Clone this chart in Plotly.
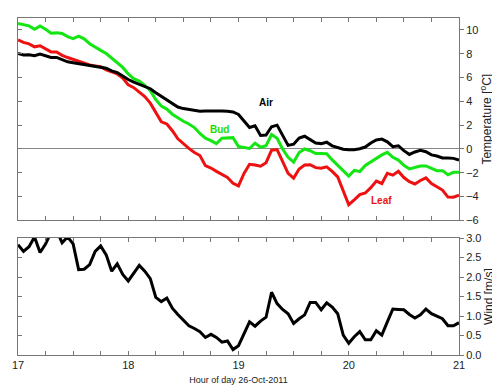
import numpy as np
import plotly.graph_objects as go

# time axis: 26-Oct-2011, 17:00 to 21:00 in 3-minute steps (hours)
hours = [17 + i * 3 / 60 for i in range(81)]

air = [8.03, 7.89, 7.92, 7.83, 7.97, 7.81, 7.69, 7.69, 7.50, 7.32,
       7.25, 7.18, 7.11, 7.05, 6.96, 6.91, 6.78, 6.56, 6.42, 6.12,
       5.83, 5.62, 5.45, 5.26, 5.06, 4.73, 4.41, 4.13, 3.84, 3.52,
       3.39, 3.30, 3.19, 3.16, 3.19, 3.20, 3.20, 3.18, 3.16, 3.11,
       2.90, 2.30, 1.80, 1.95, 1.13, 1.17, 1.87, 2.00, 1.10, 0.30,
       0.40, 0.92, 1.07, 0.80, 0.50, 0.45, 0.57, 0.26, 0.11, -0.02,
       -0.06, -0.06, 0.02, 0.16, 0.50, 0.76, 0.83, 0.60, 0.19, 0.27,
       -0.14, -0.46, -0.25, -0.12, -0.23, -0.50, -0.59, -0.75, -0.76, -0.79,
       -0.94]

bud = [10.54, 10.47, 10.34, 10.05, 10.33, 10.05, 9.72, 9.75, 9.70, 9.44,
       9.26, 9.48, 9.25, 8.84, 8.54, 8.28, 8.02, 7.64, 7.19, 6.85,
       6.30, 5.90, 5.70, 5.35, 4.90, 4.15, 3.60, 3.35, 2.92, 2.60,
       2.33, 2.10, 1.80, 1.30, 0.90, 0.70, 0.45, 0.90, 0.91, 0.95,
       0.20, 0.14, 0.04, 0.49, 0.14, 0.28, 1.21, 0.90, 0.00, -0.70,
       -1.10, -0.30, 0.00, -0.15, -0.39, -0.39, -0.40, -0.92, -1.40, -1.80,
       -2.28, -1.80, -1.90, -1.38, -1.08, -0.80, -0.50, -0.28, -0.70, -0.93,
       -1.37, -1.68, -1.57, -1.43, -1.43, -1.62, -1.82, -1.82, -2.17, -1.96,
       -1.96]

leaf = [9.16, 8.95, 8.83, 8.58, 8.67, 8.38, 8.15, 8.15, 7.86, 7.68,
        7.52, 7.40, 7.25, 7.05, 6.97, 6.90, 6.64, 6.48, 6.30, 5.95,
        5.38, 5.15, 4.75, 4.40, 3.85, 3.00, 2.28, 2.10, 1.53, 0.85,
        0.42, 0.05, -0.30, -0.55, -1.40, -1.60, -1.88, -2.12, -2.39, -2.88,
        -3.10, -2.05, -1.29, -1.35, -1.45, -1.15, -0.10, -0.05, -1.05, -2.05,
        -2.45, -1.68, -1.35, -1.32, -1.57, -1.62, -1.50, -1.88, -2.35, -3.60,
        -4.68, -4.28, -3.83, -3.70, -3.25, -2.70, -2.90, -2.05, -2.20, -1.87,
        -2.40, -2.75, -2.94, -2.65, -2.43, -2.90, -3.16, -3.45, -4.04, -4.05,
        -3.88]

wind = [2.83, 2.66, 2.78, 3.03, 2.63, 2.85, 3.15, 3.20, 2.88, 3.03,
        2.85, 2.19, 2.20, 2.32, 2.66, 2.80, 2.57, 2.15, 2.34, 2.07,
        1.90, 2.11, 2.30, 2.15, 1.96, 1.48, 1.37, 1.46, 1.20, 1.04,
        0.90, 0.75, 0.68, 0.60, 0.45, 0.53, 0.45, 0.33, 0.36, 0.14,
        0.24, 0.55, 0.85, 0.74, 0.87, 0.97, 1.61, 1.32, 1.17, 1.06,
        0.81, 0.93, 1.03, 1.35, 1.35, 1.16, 1.34, 1.23, 1.06, 0.51,
        0.30, 0.47, 0.60, 0.39, 0.39, 0.62, 0.51, 0.85, 1.18, 1.17,
        1.16, 1.04, 0.95, 1.03, 1.18, 1.06, 1.00, 0.93, 0.75, 0.75,
        0.83]

x_ticks = [17 + 0.25 * k for k in range(17)]
x_ticklabels = ["17", "", "", "", "18", "", "", "", "19", "", "", "", "20", "", "", "", "21"]
temp_ticks = [-6, -4, -2, 0, 2, 4, 6, 8, 10]
wind_ticks = [0.0, 0.5, 1.0, 1.5, 2.0, 2.5, 3.0]
wind_ticklabels = ["0.0", "0.5", "1.0", "1.5", "2.0", "2.5", "3.0"]

series_labels = [("Air", 19.25, 3.9, "black"),
                 ("Bud", 18.83, 1.6, "#22dd00"),
                 ("Leaf", 20.3, -4.3, "#ee1111")]

GREEN = "#14e614"
RED = "#ee1111"
AXC = "#777777"
FONT = "Liberation Sans, Arial, sans-serif"

fig = go.Figure()
fig.add_trace(go.Scatter(x=hours, y=bud, mode="lines", line=dict(color=GREEN, width=3),
                         xaxis="x", yaxis="y", showlegend=False))
fig.add_trace(go.Scatter(x=hours, y=leaf, mode="lines", line=dict(color=RED, width=3),
                         xaxis="x", yaxis="y", showlegend=False))
fig.add_trace(go.Scatter(x=hours, y=air, mode="lines", line=dict(color="black", width=3),
                         xaxis="x", yaxis="y", showlegend=False))
fig.add_trace(go.Scatter(x=hours, y=wind, mode="lines", line=dict(color="black", width=3),
                         xaxis="x2", yaxis="y2", showlegend=False))
# empty traces so the left-side inner tick axes are drawn
fig.add_trace(go.Scatter(x=[], y=[], xaxis="x", yaxis="y3", showlegend=False))
fig.add_trace(go.Scatter(x=[], y=[], xaxis="x2", yaxis="y4", showlegend=False))

for name, xv, yv, col in series_labels:
    fig.add_annotation(x=xv, y=yv, xref="x", yref="y", text="<b>" + name + "</b>",
                       showarrow=False, font=dict(family=FONT, size=10, color=col))

xcommon = dict(range=[17, 21], tickmode="array", tickvals=x_ticks, ticks="inside",
               ticklen=4, tickcolor=AXC, showline=True, linecolor=AXC, linewidth=1,
               mirror="ticks", showgrid=False, zeroline=False)

fig.update_layout(
    width=500, height=387,
    margin=dict(l=6, r=49, t=4, b=40),
    paper_bgcolor="white", plot_bgcolor="white",
    font=dict(family=FONT, size=11, color="#222222"),
    xaxis=dict(**xcommon, domain=[0, 1], anchor="y", showticklabels=False),
    xaxis2=dict(**xcommon, domain=[0, 1], anchor="y2", ticktext=x_ticklabels,
                showticklabels=True, tickfont=dict(size=11), ticklabeloverflow="allow",
                title=dict(text="Hour of day 26-Oct-2011", font=dict(size=9), standoff=6)),
    yaxis=dict(domain=[0.3994, 1], range=[-6, 11], anchor="x", side="right",
               tickmode="array", tickvals=temp_ticks, ticks="outside", ticklen=4,
               tickcolor=AXC, showline=True, linecolor=AXC, mirror=True,
               showgrid=False, zeroline=True, zerolinecolor="#888888", zerolinewidth=1,
               tickfont=dict(size=11),
               title=dict(text="Temperature [<sup>o</sup>C]", font=dict(size=12), standoff=4)),
    yaxis3=dict(overlaying="y", range=[-6, 11], anchor="x", side="left",
                tickmode="array", tickvals=temp_ticks, ticks="inside", ticklen=4,
                tickcolor=AXC, showline=False, showticklabels=False, showgrid=False,
                zeroline=False),
    yaxis2=dict(domain=[0, 0.3469], range=[0, 3.0], anchor="x2", side="right",
                tickmode="array", tickvals=wind_ticks, ticktext=wind_ticklabels,
                ticks="outside", ticklen=4, tickcolor=AXC, showline=True, linecolor=AXC,
                mirror=True, showgrid=False, zeroline=False, tickfont=dict(size=11),
                title=dict(text="Wind [m/s]", font=dict(size=12), standoff=4)),
    yaxis4=dict(overlaying="y2", range=[0, 3.0], anchor="x2", side="left",
                tickmode="array", tickvals=wind_ticks, ticks="inside", ticklen=4,
                tickcolor=AXC, showline=False, showticklabels=False, showgrid=False,
                zeroline=False),
)

fig.write_html("out.html")
